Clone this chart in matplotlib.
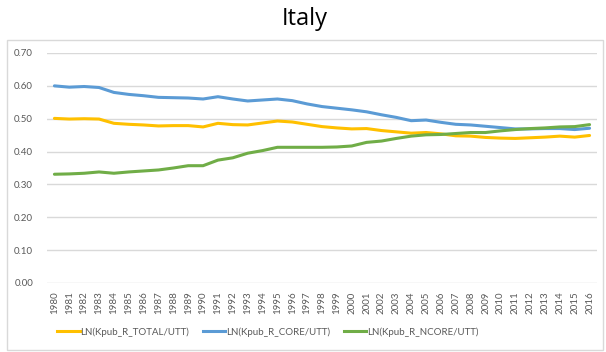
import matplotlib
matplotlib.use("Agg")
import matplotlib.pyplot as plt
from matplotlib.patches import Rectangle
from matplotlib.lines import Line2D

years = [str(y) for y in range(1980, 2017)]

total = [0.501, 0.499, 0.500, 0.499, 0.486, 0.483, 0.481, 0.478, 0.479, 0.479,
         0.475, 0.486, 0.482, 0.481, 0.487, 0.493, 0.490, 0.483, 0.476, 0.472,
         0.469, 0.470, 0.464, 0.460, 0.456, 0.458, 0.454, 0.448, 0.447, 0.443,
         0.441, 0.440, 0.442, 0.444, 0.447, 0.444, 0.449]

core = [0.600, 0.596, 0.598, 0.595, 0.580, 0.574, 0.570, 0.565, 0.564, 0.563,
        0.560, 0.567, 0.560, 0.554, 0.557, 0.560, 0.555, 0.545, 0.537, 0.532,
        0.527, 0.521, 0.512, 0.504, 0.494, 0.496, 0.489, 0.483, 0.481, 0.477,
        0.473, 0.469, 0.469, 0.470, 0.470, 0.467, 0.471]

ncore = [0.331, 0.332, 0.334, 0.338, 0.334, 0.338, 0.341, 0.344, 0.350, 0.357,
         0.357, 0.374, 0.381, 0.395, 0.403, 0.413, 0.413, 0.413, 0.413, 0.414,
         0.417, 0.428, 0.432, 0.440, 0.447, 0.451, 0.452, 0.455, 0.458, 0.458,
         0.463, 0.467, 0.470, 0.472, 0.475, 0.476, 0.482]

series_names = ["LN(Kpub_R_TOTAL/UTT)", "LN(Kpub_R_CORE/UTT)", "LN(Kpub_R_NCORE/UTT)"]
colors = ["#FFC000", "#5B9BD5", "#70AD47"]

plt.rcParams["font.family"] = ["Lato", "DejaVu Sans"]
W, H = 606, 352
fig = plt.figure(figsize=(W / 100, H / 100), dpi=100)

# outer chart frame
fig.patches.append(Rectangle((7 / W, 1 - 350 / H), 596 / W, 310 / H,
                             transform=fig.transFigure, fill=False,
                             edgecolor="#d9d9d9", linewidth=1))

ax = fig.add_axes([47 / W, 1 - 283 / H, 550 / W, 230 / H])
x = list(range(len(years)))
for vals, c in zip([total, core, ncore], colors):
    ax.plot(x, vals, color=c, linewidth=2.2, solid_capstyle="round", zorder=3)

ax.set_xlim(-0.5, len(years) - 0.5)
ax.set_ylim(0, 0.70)
ax.set_yticks([i / 10 for i in range(8)])
ax.set_yticklabels([f"{i / 10:.2f}" for i in range(8)])
ax.set_xticks(x)
ax.set_xticklabels(years, rotation=90)
ax.tick_params(axis="both", length=0, labelsize=7, labelcolor="#595959")
ax.tick_params(axis="y", pad=10)
ax.tick_params(axis="x", pad=6)
ax.grid(axis="y", color="#d9d9d9", linewidth=1)
ax.set_axisbelow(True)
for s in ax.spines.values():
    s.set_visible(False)

fig.text(305 / W, 1 - 19 / H, "Italy", ha="center", va="center",
         fontsize=17, color="#000000", family=["Open Sans", "DejaVu Sans"])

handles = [Line2D([0], [0], color=c, linewidth=2.2) for c in colors]
fig.legend(handles, series_names, loc="center", bbox_to_anchor=(268 / W, 1 - 332 / H),
           ncol=3, frameon=False, fontsize=7, labelcolor="#595959",
           handlelength=2.3, handletextpad=0.1, columnspacing=1.4)

fig.savefig("out.png", dpi=100)
